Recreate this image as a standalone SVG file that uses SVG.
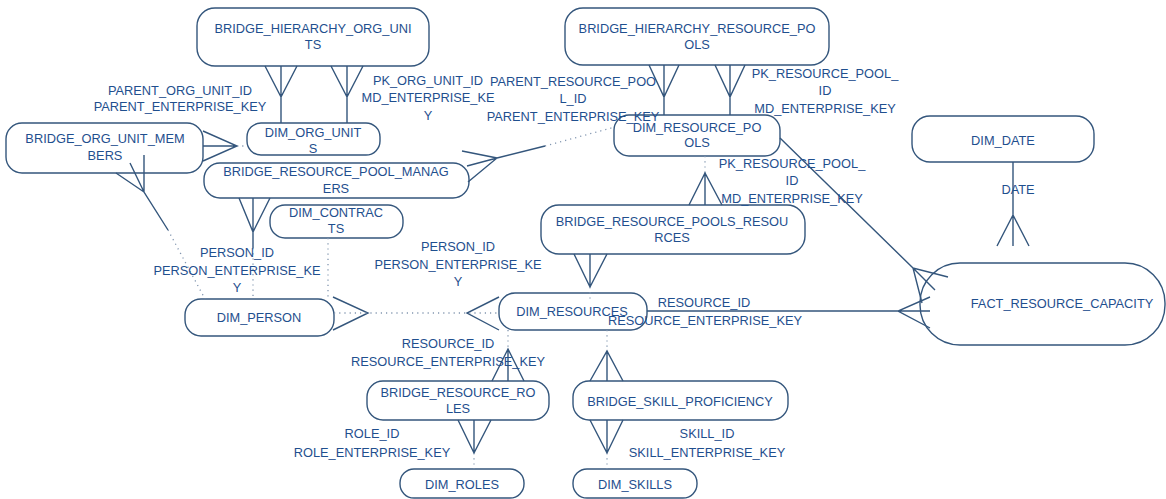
<svg xmlns="http://www.w3.org/2000/svg" width="1166" height="499" viewBox="0 0 1166 499">
<style>
.box{fill:#ffffff;stroke:#34567c;stroke-width:1.4}
.t{font-family:"Liberation Sans",Arial,sans-serif;font-size:12.8px;fill:#1f4f8e;text-anchor:middle}
.ln{fill:none;stroke:#34567c;stroke-width:1.4;stroke-linejoin:miter}
.dot{fill:none;stroke:#8296b0;stroke-width:1.3;stroke-dasharray:1.2 4}
</style>
<rect width="1166" height="499" fill="#ffffff"/>
<g id="BRIDGE_HIERARCHY_ORG_UNITS"><rect class="box" x="197" y="8" width="232" height="58" rx="18"/><text class="t" x="313" y="33">BRIDGE_HIERARCHY_ORG_UNI</text><text class="t" x="313" y="49">TS</text></g>
<g id="BRIDGE_HIERARCHY_RESOURCE_POOLS"><rect class="box" x="565" y="8" width="264" height="57" rx="18"/><text class="t" x="697" y="33">BRIDGE_HIERARCHY_RESOURCE_PO</text><text class="t" x="697" y="49">OLS</text></g>
<g id="DIM_ORG_UNITS"><rect class="box" x="247" y="123" width="133" height="32" rx="14"/><text class="t" x="313" y="137">DIM_ORG_UNIT</text><text class="t" x="313" y="153">S</text></g>
<g id="BRIDGE_ORG_UNIT_MEMBERS"><rect class="box" x="6" y="123" width="197" height="50" rx="16"/><text class="t" x="105" y="143">BRIDGE_ORG_UNIT_MEM</text><text class="t" x="105" y="160">BERS</text></g>
<g id="BRIDGE_RESOURCE_POOL_MANAGERS"><rect class="box" x="204" y="163" width="265" height="35" rx="16"/><text class="t" x="336" y="176">BRIDGE_RESOURCE_POOL_MANAG</text><text class="t" x="336" y="193">ERS</text></g>
<g id="DIM_CONTRACTS"><rect class="box" x="270" y="205" width="133" height="33" rx="15"/><text class="t" x="336" y="217">DIM_CONTRAC</text><text class="t" x="336" y="233">TS</text></g>
<g id="DIM_PERSON"><rect class="box" x="185" y="299" width="149" height="37" rx="16"/><text class="t" x="259" y="322">DIM_PERSON</text></g>
<g id="DIM_RESOURCE_POOLS"><rect class="box" x="614" y="115" width="166" height="41" rx="15"/><text class="t" x="697" y="132">DIM_RESOURCE_PO</text><text class="t" x="697" y="147">OLS</text></g>
<g id="BRIDGE_RESOURCE_POOLS_RESOURCES"><rect class="box" x="541" y="205" width="264" height="49" rx="18"/><text class="t" x="672" y="226">BRIDGE_RESOURCE_POOLS_RESOU</text><text class="t" x="672" y="242">RCES</text></g>
<g id="DIM_RESOURCES"><rect class="box" x="499" y="293" width="148" height="37" rx="16"/><text class="t" x="572" y="316">DIM_RESOURCES</text></g>
<g id="DIM_DATE"><rect class="box" x="912" y="116" width="182" height="46" rx="18"/><text class="t" x="1003" y="145">DIM_DATE</text></g>
<g id="FACT_RESOURCE_CAPACITY"><rect class="box" x="920" y="263" width="245" height="82" rx="40"/><text class="t" x="1062" y="308">FACT_RESOURCE_CAPACITY</text></g>
<g id="BRIDGE_RESOURCE_ROLES"><rect class="box" x="367" y="381" width="182" height="39" rx="16"/><text class="t" x="458" y="397">BRIDGE_RESOURCE_RO</text><text class="t" x="458" y="413">LES</text></g>
<g id="BRIDGE_SKILL_PROFICIENCY"><rect class="box" x="573" y="381" width="215" height="39" rx="16"/><text class="t" x="680" y="406">BRIDGE_SKILL_PROFICIENCY</text></g>
<g id="DIM_ROLES"><rect class="box" x="400" y="469" width="124" height="29" rx="14"/><text class="t" x="462" y="489">DIM_ROLES</text></g>
<g id="DIM_SKILLS"><rect class="box" x="573" y="469" width="124" height="29" rx="14"/><text class="t" x="635" y="489">DIM_SKILLS</text></g>
<g id="connectors">
<path class="ln" d="M265,66 L281,97 L297,66 M281,66 L281,123"/>
<path class="ln" d="M331,66 L347,97 L363,66 M347,66 L347,123"/>
<path class="ln" d="M649,65 L664,97 L679,65 M664,65 L664,115"/>
<path class="ln" d="M715,65 L730,97 L745,65 M730,65 L730,115"/>
<path class="ln" d="M203,131 L237,146 L203,161 M203,146 L237,146"/>
<path class="dot" d="M237,146 L247,146"/>
<path class="ln" d="M116,173 L144,192 M130,163 L144,192 M144,155 L144,192 L168,230"/>
<path class="dot" d="M168,230 L205,299"/>
<path class="ln" d="M239,198 L253,232 L270,198 M253,198 L253,248"/>
<path class="dot" d="M253,248 L253,299"/>
<path class="dot" d="M328,238 L328,300"/>
<path class="ln" d="M462,151 L497,158 L468,182 M467,166 L497,158 L545,146"/>
<path class="dot" d="M545,146 L615,127"/>
<path class="ln" d="M333,297 L368,313 L333,330 M499,297 L467,313 L499,330"/>
<path class="dot" d="M334,313 L499,313"/>
<path class="dot" d="M705,156 L705,173"/>
<path class="ln" d="M689,205 L705,173 L722,205 M705,173 L705,205"/>
<path class="ln" d="M574,254 L590,287 L607,254 M590,254 L590,287"/>
<path class="dot" d="M590,287 L590,300"/>
<path class="dot" d="M508,330 L508,349"/>
<path class="ln" d="M492,381 L508,349 L524,381 M508,349 L508,381"/>
<path class="ln" d="M458,420 L474,453 L491,420 M474,420 L474,453"/>
<path class="dot" d="M474,453 L474,469"/>
<path class="dot" d="M607,330 L607,351"/>
<path class="ln" d="M590,381 L607,351 L623,381 M607,351 L607,381"/>
<path class="ln" d="M590,420 L607,453 L623,420 M607,420 L607,453"/>
<path class="dot" d="M607,453 L607,469"/>
<path class="ln" d="M647,311 L930,311 M930,297 L898,311 L930,328"/>
<path class="ln" d="M780,138 L913,268 L935,290 M948,277 L913,268 L922,303"/>
<path class="ln" d="M1013,162 L1013,246 M997,246 L1013,215 L1029,246"/>
</g>
<g id="labels">
<text class="t" x="180" y="95">PARENT_ORG_UNIT_ID</text><text class="t" x="180" y="111">PARENT_ENTERPRISE_KEY</text>
<text class="t" x="428" y="85">PK_ORG_UNIT_ID</text><text class="t" x="428" y="102">MD_ENTERPRISE_KE</text><text class="t" x="428" y="120">Y</text>
<text class="t" x="573" y="86">PARENT_RESOURCE_POO</text><text class="t" x="573" y="103">L_ID</text><text class="t" x="573" y="121">PARENT_ENTERPRISE_KEY</text>
<text class="t" x="825" y="78">PK_RESOURCE_POOL_</text><text class="t" x="825" y="95">ID</text><text class="t" x="825" y="113">MD_ENTERPRISE_KEY</text>
<text class="t" x="792" y="168">PK_RESOURCE_POOL_</text><text class="t" x="792" y="185">ID</text><text class="t" x="792" y="203">MD_ENTERPRISE_KEY</text>
<text class="t" x="1018" y="194">DATE</text>
<text class="t" x="237" y="257">PERSON_ID</text><text class="t" x="237" y="275">PERSON_ENTERPRISE_KE</text><text class="t" x="237" y="292">Y</text>
<text class="t" x="458" y="251">PERSON_ID</text><text class="t" x="458" y="269">PERSON_ENTERPRISE_KE</text><text class="t" x="458" y="286">Y</text>
<text class="t" x="704" y="307">RESOURCE_ID</text><text class="t" x="705" y="325">RESOURCE_ENTERPRISE_KEY</text>
<text class="t" x="448" y="348">RESOURCE_ID</text><text class="t" x="448" y="366">RESOURCE_ENTERPRISE_KEY</text>
<text class="t" x="372" y="438">ROLE_ID</text><text class="t" x="372" y="457">ROLE_ENTERPRISE_KEY</text>
<text class="t" x="707" y="438">SKILL_ID</text><text class="t" x="707" y="457">SKILL_ENTERPRISE_KEY</text>
</g>
</svg>
